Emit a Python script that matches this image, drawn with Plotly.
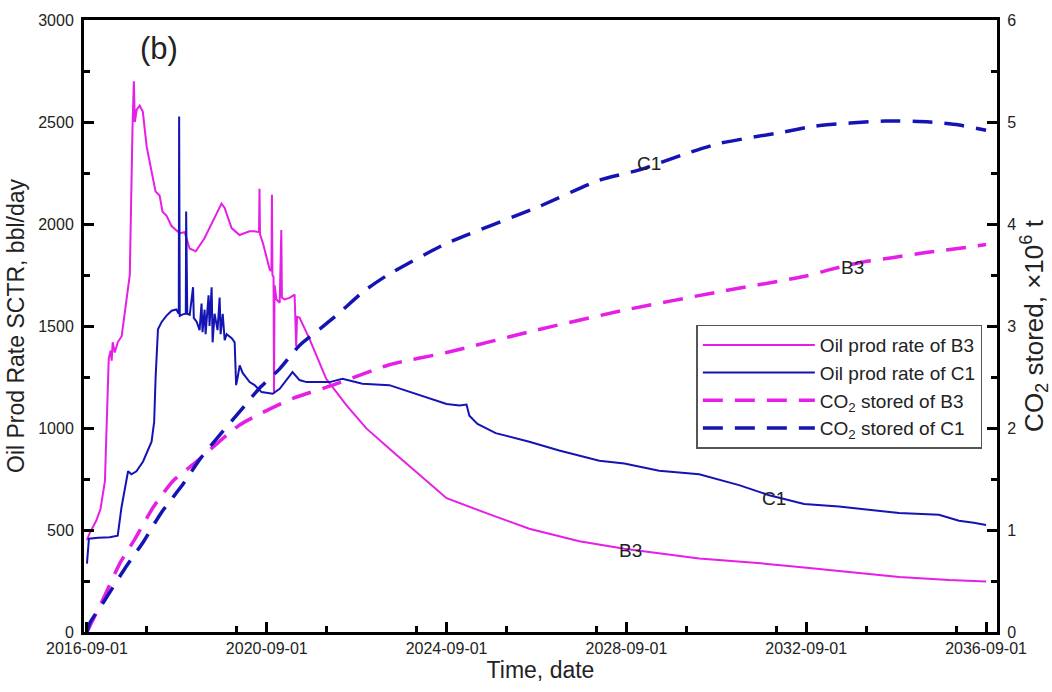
import plotly.graph_objects as go

# ---------------- data ----------------
b3_oil_dates = [
    "2016-09-01", "2016-09-20", "2016-11-15", "2016-12-20", "2017-01-25", "2017-02-10", "2017-02-25", "2017-03-13",
    "2017-03-21", "2017-03-29", "2017-04-15", "2017-05-09", "2017-06-10", "2017-07-13", "2017-08-15", "2017-09-06",
    "2017-09-17", "2017-09-25", "2017-10-10", "2017-11-04", "2017-11-29", "2017-12-30", "2018-01-24", "2018-03-12",
    "2018-04-14", "2018-05-08", "2018-06-10", "2018-07-20", "2018-09-24", "2018-11-04", "2018-12-14", "2019-02-02",
    "2019-04-14", "2019-07-04", "2019-08-30", "2019-09-24", "2019-11-20", "2020-01-24", "2020-04-14", "2020-05-24",
    "2020-06-30", "2020-07-04", "2020-07-08", "2020-08-01", "2020-09-25", "2020-10-09", "2020-10-13", "2020-10-17",
    "2020-10-26", "2020-10-30", "2020-11-03", "2020-11-19", "2020-12-15", "2020-12-28", "2021-01-02", "2021-01-23",
    "2021-03-05", "2021-04-15", "2021-04-28", "2021-05-05", "2021-05-25", "2021-08-15", "2021-12-28", "2022-06-08",
    "2022-11-19", "2023-07-18", "2024-09-01", "2025-08-01", "2026-07-05", "2027-08-15", "2028-08-15", "2030-04-15",
    "2031-07-05", "2032-08-15", "2033-08-15", "2034-09-25", "2035-11-05", "2036-09-01"]
b3_oil = [
    450, 481, 545, 603, 739, 1030, 1340, 1380,
    1330, 1420, 1370, 1420, 1450, 1600, 1750, 2470,
    2700, 2500, 2560, 2580, 2550, 2380, 2300, 2160,
    2140, 2060, 2040, 1990, 1955, 1960, 1880, 1866,
    1930, 2030, 2100, 2080, 1980, 1946, 1964, 1964,
    1960, 2173, 1950, 1906, 1776, 1770, 2143, 1750,
    1740, 1168, 1700, 1630, 1614, 1970, 1640, 1630,
    1638, 1654, 1400, 1545, 1541, 1436, 1241, 1113,
    998, 870, 656, 580, 506, 445, 408, 360,
    340, 316, 295, 270, 255, 248]

c1_oil_dates = [
    "2016-09-01", "2016-09-08", "2016-09-17", "2016-12-01", "2017-03-05", "2017-05-09", "2017-06-08", "2017-08-01",
    "2017-08-28", "2017-10-08", "2017-12-01", "2018-02-08", "2018-03-01", "2018-03-13", "2018-04-01", "2018-05-01",
    "2018-06-08", "2018-07-21", "2018-08-28", "2018-09-17", "2018-09-20", "2018-09-25", "2018-10-19", "2018-11-13",
    "2018-11-16", "2018-11-25", "2018-12-15", "2019-01-11", "2019-01-17", "2019-02-10", "2019-03-05", "2019-03-21",
    "2019-03-29", "2019-04-15", "2019-04-23", "2019-05-17", "2019-05-25", "2019-06-11", "2019-06-19", "2019-07-05",
    "2019-07-29", "2019-08-15", "2019-08-23", "2019-09-09", "2019-09-25", "2019-10-11", "2019-11-21", "2019-12-15",
    "2019-12-27", "2020-01-09", "2020-01-25", "2020-02-18", "2020-04-15", "2020-05-25", "2020-07-21", "2020-10-19",
    "2020-12-15", "2021-03-29", "2021-05-25", "2021-07-21", "2022-01-25", "2022-05-09", "2022-10-18", "2023-05-25",
    "2024-01-25", "2024-09-01", "2024-12-15", "2025-02-10", "2025-03-05", "2025-05-10", "2025-10-05", "2026-07-05",
    "2027-03-05", "2028-01-25", "2028-08-15", "2029-05-25", "2030-04-15", "2031-03-05", "2031-11-05", "2032-08-15",
    "2033-05-25", "2034-01-25", "2034-09-25", "2035-08-15", "2036-01-25", "2036-05-25", "2036-09-01"]
c1_oil = [
    335, 400, 457, 462, 465, 472, 609, 788,
    773, 788, 836, 933, 1030, 1250, 1484, 1520,
    1550, 1575, 1581, 1560, 2527, 1550, 1557, 1560,
    2061, 1560, 1555, 1690, 1540, 1520, 1480, 1610,
    1470, 1580, 1460, 1650, 1500, 1690, 1420, 1560,
    1480, 1640, 1460, 1560, 1430, 1460, 1440, 1420,
    1210, 1250, 1307, 1270, 1225, 1210, 1176, 1168,
    1192, 1274, 1235, 1225, 1225, 1241, 1217, 1210,
    1160, 1118, 1110, 1115, 1060, 1020, 975, 933,
    890, 840, 826, 790, 773, 720, 670, 627,
    615, 600, 583, 575, 545, 535, 525]

b3_co2_dates = [
    "2016-09-01", "2017-01-25", "2017-05-25", "2017-09-25", "2018-02-20", "2018-08-01", "2019-02-08", "2020-01-25",
    "2021-04-01", "2022-02-20", "2023-05-25", "2024-09-01", "2026-09-01", "2028-09-01", "2030-09-01", "2032-09-01",
    "2033-03-05", "2033-11-05", "2034-08-01", "2035-05-01", "2036-03-20", "2036-09-01"]
b3_co2 = [
    0, 0.36, 0.67, 0.91, 1.22, 1.48, 1.67, 2.03,
    2.29, 2.42, 2.62, 2.74, 2.96, 3.16, 3.33, 3.49,
    3.55, 3.62, 3.67, 3.72, 3.77, 3.80]

c1_co2_dates = [
    "2016-09-01", "2016-09-25", "2017-01-12", "2017-07-05", "2017-12-01", "2018-04-28", "2018-10-22", "2019-03-05",
    "2019-08-15", "2020-01-25", "2020-07-03", "2020-12-15", "2021-05-25", "2021-11-05", "2022-04-15", "2022-10-18",
    "2023-04-28", "2024-09-01", "2026-09-01", "2028-01-25", "2028-12-15", "2029-12-30", "2030-09-25", "2032-02-20",
    "2032-11-15", "2034-06-01", "2035-06-01", "2036-01-25", "2036-09-01"]
c1_co2 = [
    0, 0.09, 0.29, 0.62, 0.88, 1.17, 1.45, 1.69,
    1.93, 2.16, 2.39, 2.58, 2.81, 2.97, 3.13, 3.33,
    3.49, 3.81, 4.16, 4.43, 4.53, 4.69, 4.79, 4.90,
    4.96, 5.01, 5.00, 4.97, 4.92]

MAG = "#E61EE6"
BLU = "#1414B4"
TXT = "#222222"
FONT = "Liberation Sans, Arial, sans-serif"
DASH = "20px,12px"

fig = go.Figure()
fig.add_trace(go.Scatter(x=b3_oil_dates, y=b3_oil, mode="lines", name="Oil prod rate of B3",
                         line=dict(color=MAG, width=2)))
fig.add_trace(go.Scatter(x=c1_oil_dates, y=c1_oil, mode="lines", name="Oil prod rate of C1",
                         line=dict(color=BLU, width=2)))
fig.add_trace(go.Scatter(x=b3_co2_dates, y=b3_co2, mode="lines", name="CO<sub>2</sub> stored of B3",
                         line=dict(color=MAG, width=3.5, dash=DASH, shape="spline", smoothing=0.6), yaxis="y2"))
fig.add_trace(go.Scatter(x=c1_co2_dates, y=c1_co2, mode="lines", name="CO<sub>2</sub> stored of C1",
                         line=dict(color=BLU, width=3.5, dash=DASH, shape="spline", smoothing=0.6), yaxis="y2"))

ann_font = dict(family=FONT, size=19, color=TXT)
tick_common = dict(ticks="inside", ticklen=10, tickwidth=2.5, tickcolor="black",
                   showline=True, linewidth=3, linecolor="black", showgrid=False, zeroline=False)

fig.update_layout(
    width=1052, height=692,
    margin=dict(l=84, r=54, t=15, b=60),
    paper_bgcolor="white", plot_bgcolor="white",
    font=dict(family=FONT, color=TXT),
    showlegend=True,
    legend=dict(x=0.6707, y=0.5024, xanchor="left", yanchor="top",
                bordercolor="#555555", borderwidth=1.5, bgcolor="white",
                font=dict(family=FONT, size=19, color=TXT),
                itemwidth=112, tracegroupgap=0),
    xaxis=dict(type="date", range=["2016-08-08", "2036-11-29"],
               tick0="2016-09-01", dtick="M48", tickformat="%Y-%m-%d",
               minor=dict(dtick="M24", ticks="inside", ticklen=6, tickwidth=2.5, tickcolor="black"),
               mirror=True,
               tickfont=dict(family=FONT, size=16, color=TXT),
               title=dict(text="Time, date", font=dict(family=FONT, size=23, color=TXT), standoff=4),
               **tick_common),
    yaxis=dict(range=[0, 3000], dtick=500,
               minor=dict(dtick=250, ticks="inside", ticklen=6, tickwidth=2.5, tickcolor="black"),
               tickfont=dict(family=FONT, size=16, color=TXT), ticklabelstandoff=4,
               title=dict(text="Oil Prod Rate SCTR, bbl/day", font=dict(family=FONT, size=23, color=TXT), standoff=8),
               **tick_common),
    yaxis2=dict(range=[0, 6], dtick=1, overlaying="y", side="right",
                minor=dict(dtick=0.5, ticks="inside", ticklen=6, tickwidth=2.5, tickcolor="black"),
                tickfont=dict(family=FONT, size=16, color=TXT), ticklabelstandoff=4,
                title=dict(text="CO<sub>2</sub> stored, ×10<sup>6</sup> t", font=dict(family=FONT, size=26, color=TXT), standoff=6),
                **tick_common),
    annotations=[
        dict(text="(b)", x="2018-04-07", y=2860, xref="x", yref="y", xanchor="center", yanchor="middle",
             showarrow=False, font=dict(family=FONT, size=31, color=TXT)),
        dict(text="C1", x="2029-03-01", y=4.59, xref="x", yref="y2", showarrow=False,
             xanchor="center", yanchor="middle", font=ann_font),
        dict(text="B3", x="2033-09-15", y=3.57, xref="x", yref="y2", showarrow=False,
             xanchor="center", yanchor="middle", font=ann_font),
        dict(text="B3", x="2028-10-01", y=399, xref="x", yref="y", showarrow=False,
             xanchor="center", yanchor="middle", font=ann_font),
        dict(text="C1", x="2031-12-15", y=656, xref="x", yref="y", showarrow=False,
             xanchor="center", yanchor="middle", font=ann_font),
    ],
)

fig.write_html("out.html")
